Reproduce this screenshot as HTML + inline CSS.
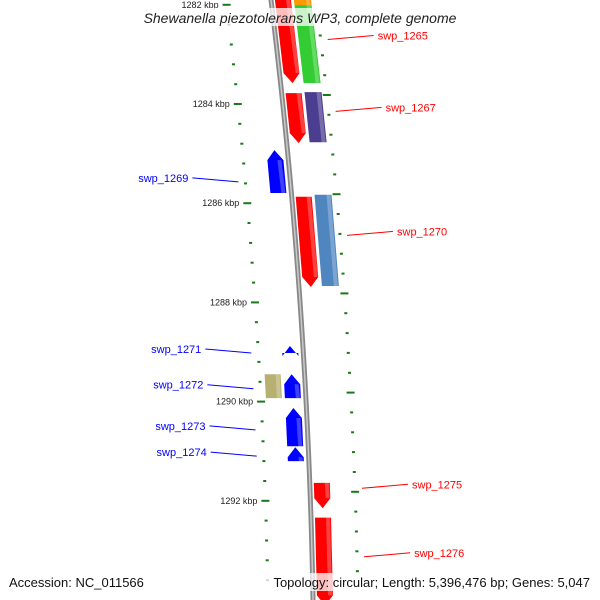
<!DOCTYPE html>
<html><head><meta charset="utf-8">
<style>
html,body{margin:0;padding:0;background:#fff;}
svg{display:block;font-family:"Liberation Sans","DejaVu Sans",sans-serif;}
</style></head>
<body>
<svg id="map" width="600" height="600" viewBox="0 0 600 600">
<defs>
<linearGradient id="bbg" x1="0" x2="1" y1="0" y2="0">
<stop offset="0" stop-color="#777"/><stop offset="0.5" stop-color="#ccc"/><stop offset="1" stop-color="#777"/>
</linearGradient>
</defs>
<g id="ticks"></g>
<g id="backbone"></g>
<g id="feats"></g>
<g id="labels"></g>
<rect x="128" y="8" width="344" height="18" fill="#fff" fill-opacity="0.75"/>
<text x="300" y="23" text-anchor="middle" font-size="14" font-style="italic" fill="#222">Shewanella piezotolerans WP3, complete genome</text>
<rect x="5" y="573" width="124" height="18" fill="#fff" fill-opacity="0.75"/>
<text x="9" y="587" font-size="13" fill="#111">Accession: NC_011566</text>
<rect x="258" y="573" width="336" height="18" fill="#fff" fill-opacity="0.75"/>
<text x="590" y="587" text-anchor="end" font-size="13" fill="#111">Topology: circular; Length: 5,396,476 bp; Genes: 5,047</text>
</svg>
<script>
// ---- data ----
const featStart = [1281.8, 1281.99, 1283.87, 1283.85, 1285.02, 1285.96, 1285.92, 1288.97, 1289.54, 1289.54, 1290.22, 1291.01, 1291.73, 1292.43];
const featEnd   = [1283.67, 1282.1, 1284.88, 1284.86, 1285.885, 1287.78, 1287.76, 1289.11, 1290.02, 1290.02, 1290.99, 1291.29, 1292.24, 1294.2];
const featLane  = [1, 2, 1, 2, -1, 1, 2, -1, -2, -1, -1, -1, 1, 1];
const featStrand= [1, 0, 1, 0, -1, 1, 0, -1, 0, -1, -1, -1, 1, 1];
const featColor = ["#ff0000","#ff9900","#ff0000","#4b3d8f","#0000ff","#ff0000","#4f86c0","#0000ff","#b8b070","#0000ff","#0000ff","#0000ff","#ff0000","#ff0000"];
const greenStart = 1281.8, greenEnd = 1283.67;
const labelNames = ["swp_1265","swp_1267","swp_1269","swp_1270","swp_1271","swp_1272","swp_1273","swp_1274","swp_1275","swp_1276"];
const labelPos   = [1282.85, 1284.3, 1285.6, 1286.8, 1289.05, 1289.77, 1290.6, 1291.13, 1291.9, 1293.28];
const labelSide  = [1, 1, -1, 1, -1, -1, -1, -1, 1, 1];
const tickStartKbp = 1281.6, tickEndKbp = 1293.6, tickStep = 0.4;
const majorTicks = [1282, 1284, 1286, 1288, 1290, 1292];

// ---- scales ----
function yOf(k){ return 99.5 + (k-1284)*49.6; }
function bbX(y){ return 271 + 0.1225*y - 8.75e-5*y*y; }
const NS = "http://www.w3.org/2000/svg";
function mk(tag, attrs, parent){ const e=document.createElementNS(NS,tag); for(const a in attrs) e.setAttribute(a,attrs[a]); parent.appendChild(e); return e; }

// backbone
const bb = document.getElementById("backbone");
let d = ""; for(let y=-5;y<=605;y+=5){ d += (y===-5?"M":"L")+bbX(y).toFixed(2)+","+y+" "; }
const bbl = mk("path",{d:d,fill:"none",stroke:"#888","stroke-width":5},bb);


const bbh = mk("path",{d:d,fill:"none",stroke:"#c8c8c8","stroke-width":1.5},bb);



// ticks
const tg = document.getElementById("ticks");
const nT = Math.round((tickEndKbp-tickStartKbp)/tickStep);
for(let i=0;i<=nT;i++){
  const k = tickStartKbp + i*tickStep;
  const yc = yOf(k);
  const major = majorTicks.some(m=>Math.abs(m-k)<0.01);
  [-1,1].forEach(side=>{
    const y = yc - side*4.5;
    const x = bbX(y) + side*45;
    const w = major?8:3;
    const r = mk("rect",{x:(x-w/2).toFixed(1),y:(y-1).toFixed(1),width:w,height:2,fill:"#1a7a1a"},tg);
    
    
    if(major && side<0){
      const t = mk("text",{x:(x-8).toFixed(1),y:(y+3).toFixed(1),"text-anchor":"end","font-size":9,fill:"#222"},tg);
      t.textContent = Math.round(k)+" kbp";
      
      
    }
  });
}

// features
const fg = document.getElementById("feats");
const laneOff = {"1":[4,20],"2":[23,40],"-1":[-21,-5],"-2":[-40,-24]};
function drawFeat(k1,k2,lane,strand,color,name){
  const y1=yOf(k1), y2=yOf(k2), o=laneOff[String(lane)], h=10;
  const a1=bbX(y1), a2=bbX(y2);
  let pts;
  if(strand===1){
    const ym=y2-h, am=bbX(ym);
    pts=[[a1+o[0],y1],[a1+o[1],y1],[am+o[1],ym],[a2+(o[0]+o[1])/2,y2],[am+o[0],ym]];
  } else if(strand===-1){
    const ym=y1+h, am=bbX(ym);
    pts=[[a1+(o[0]+o[1])/2,y1],[am+o[1],ym],[a2+o[1],y2],[a2+o[0],y2],[am+o[0],ym]];
  } else {
    pts=[[a1+o[0],y1],[a1+o[1],y1],[a2+o[1],y2],[a2+o[0],y2]];
  }
  const p = mk("polygon",{points:pts.map(q=>q[0].toFixed(1)+","+q[1].toFixed(1)).join(" "),fill:color},fg);
  
  
  const hl = mk("polygon",{points:[[a1+o[1]-5,y1+(strand===-1?h:0)],[a1+o[1]-1,y1+(strand===-1?h:0)],[a2+o[1]-1,y2-(strand===1?h:0)],[a2+o[1]-5,y2-(strand===1?h:0)]].map(q=>q[0].toFixed(1)+","+q[1].toFixed(1)).join(" "),fill:"#fff","fill-opacity":0.25},fg);
  
  
}
drawFeat(greenStart, greenEnd, 2, 0, "#33cc33", "gene-green");
for(let i=0;i<featStart.length;i++){
  drawFeat(featStart[i], featEnd[i], featLane[i], featStrand[i], featColor[i], "gene-feature-"+i);
}

// labels
const lg = document.getElementById("labels");
for(let i=0;i<labelNames.length;i++){
  const s = labelSide[i], yc = yOf(labelPos[i]);
  const col = s>0?"#ff0000":"#0000ff";
  const y0 = yc - s*3;
  const x0 = bbX(y0) + s*52;
  const x1 = x0 + s*46, y1 = y0 - 4;
  const ln = mk("line",{x1:x0.toFixed(1),y1:y0.toFixed(1),x2:x1.toFixed(1),y2:y1.toFixed(1),stroke:col,"stroke-width":1},lg);
  
  
  const t = mk("text",{x:(x1+s*4).toFixed(1),y:(y1+4).toFixed(1),"text-anchor":s>0?"start":"end","font-size":11,fill:col},lg);
  t.textContent = labelNames[i];
  
  
}
</script>
</body></html>
